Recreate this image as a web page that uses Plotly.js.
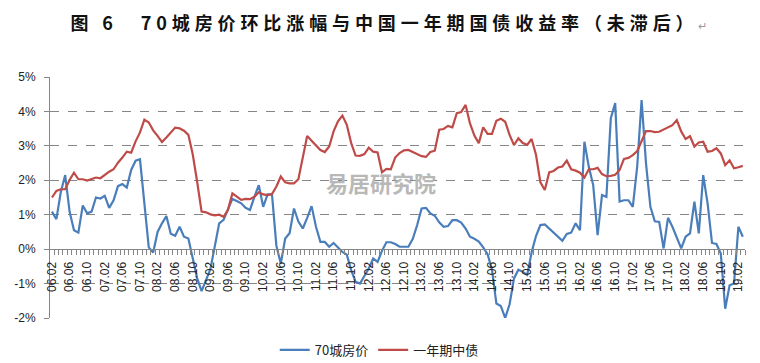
<!DOCTYPE html>
<html>
<head>
<meta charset="utf-8">
<script src="https://cdn.plot.ly/plotly-3.0.1.min.js"></script>
<style>
  html, body { margin: 0; padding: 0; background: #fff; }
  #chart { width: 760px; height: 363px; }
</style>
</head>
<body>
<div id="chart"></div>
<script>
// ---- data (monthly, from 2006.02 to 2019.03) ----
const startYear = 2006;
const startMonth = 2;

// 70城房价环比涨幅 (%)
const housePrice = [
  1.09, 0.87, 1.65, 2.15, 1.09, 0.55, 0.48, 1.27, 1.04, 1.09,
  1.50, 1.47, 1.55, 1.20, 1.42, 1.83, 1.89, 1.79, 2.30, 2.57,
  2.61, 1.40, 0.05, -0.10, 0.50, 0.75, 0.96, 0.45, 0.39, 0.65,
  0.36, 0.31, -0.30, -0.85, -1.22, -0.88, -0.58, 0.08, 0.75, 0.85,
  1.18, 1.46, 1.40, 1.33, 1.20, 1.14, 1.52, 1.86, 1.23, 1.59,
  1.59, 0.10, -0.42, 0.31, 0.46, 1.18, 0.80, 0.60, 0.91, 1.25,
  0.65, 0.21, 0.21, 0.07, 0.18, 0.05, -0.08, -0.16, -0.61, -0.95,
  -1.00, -0.78, -0.56, -0.27, -0.37, -0.05, 0.20, 0.20, 0.15, 0.07,
  0.07, 0.07, 0.30, 0.70, 1.18, 1.20, 1.04, 0.97, 0.78, 0.65,
  0.67, 0.84, 0.84, 0.77, 0.60, 0.36, 0.30, 0.22, 0.05, -0.15,
  -0.60, -1.58, -1.65, -2.00, -1.60, -0.85, -0.60, -0.66, -0.75, -0.10,
  0.38, 0.70, 0.72, 0.60, 0.50, 0.35, 0.24, 0.44, 0.48, 0.75,
  0.55, 3.12, 2.39, 1.86, 0.41, 1.57, 1.52, 3.80, 4.24, 1.38,
  1.42, 1.42, 1.23, 2.40, 4.33, 2.49, 1.23, 0.81, 0.79, 0.02,
  0.91, 0.65, 0.35, 0.02, 0.36, 0.46, 1.38, 0.46, 2.15, 1.33,
  0.18, 0.15, -0.13, -1.73, -1.05, -1.00, 0.65, 0.36
];

// 一年期中债收益率 (%)
const bondYield = [
  1.50, 1.69, 1.74, 1.74, 2.01, 2.22, 2.03, 2.03, 1.99, 2.04,
  2.08, 2.06, 2.16, 2.25, 2.32, 2.51, 2.66, 2.83, 2.80, 3.13,
  3.39, 3.76, 3.68, 3.45, 3.29, 3.11, 3.24, 3.39, 3.53, 3.51,
  3.44, 3.32, 2.75, 1.95, 1.09, 1.07, 1.01, 0.98, 1.00, 0.94,
  1.14, 1.62, 1.52, 1.43, 1.46, 1.45, 1.52, 1.65, 1.59, 1.57,
  1.60, 1.82, 2.11, 1.94, 1.91, 1.91, 2.03, 2.66, 3.29, 3.15,
  3.01, 2.88, 2.82, 2.98, 3.42, 3.71, 3.88, 3.61, 3.08, 2.72,
  2.71, 2.76, 2.95, 2.83, 2.81, 2.23, 2.33, 2.32, 2.66, 2.79,
  2.87, 2.88, 2.82, 2.76, 2.70, 2.68, 2.82, 2.86, 3.47, 3.49,
  3.58, 3.54, 3.95, 3.98, 4.19, 3.65, 3.30, 3.08, 3.54, 3.35,
  3.35, 3.73, 3.79, 3.70, 3.32, 3.02, 3.22, 3.08, 3.03, 3.20,
  2.74, 1.94, 1.72, 2.23, 2.27, 2.37, 2.40, 2.57, 2.32, 2.28,
  2.22, 2.08, 2.32, 2.32, 2.36, 2.18, 2.12, 2.13, 2.16, 2.30,
  2.62, 2.65, 2.73, 2.85, 3.12, 3.43, 3.43, 3.40, 3.41, 3.47,
  3.53, 3.60, 3.75, 3.42, 3.20, 3.28, 2.98, 3.10, 3.12, 2.83,
  2.85, 2.93, 2.78, 2.44, 2.58, 2.35, 2.38, 2.42
];

const seriesNames = ['70城房价', '一年期中债'];
const yTickValues = [-2, -1, 0, 1, 2, 3, 4, 5];
const yTickLabels = ['-2%', '-1%', '0%', '1%', '2%', '3%', '4%', '5%'];
const labelEvery = 4;

// category labels "YY.MM"
const months = housePrice.map((_, k) => {
  const m = startMonth - 1 + k;
  const yy = startYear + Math.floor(m / 12);
  const mm = (m % 12) + 1;
  return String(yy % 100).padStart(2, '0') + '.' + String(mm).padStart(2, '0');
});
const xIdx = months.map((_, k) => k);
const tickVals = xIdx.filter(k => k % labelEvery === 0);
const tickText = tickVals.map(k => months[k]);

const traces = [
  {
    x: xIdx, y: housePrice, name: seriesNames[0], type: 'scatter', mode: 'lines',
    text: months, hoverinfo: 'text+y',
    line: { color: '#4A7EBB', width: 2.2 }
  },
  {
    x: xIdx, y: bondYield, name: seriesNames[1], type: 'scatter', mode: 'lines',
    text: months, hoverinfo: 'text+y',
    line: { color: '#BE4B48', width: 2.2 }
  }
];

const yMin = -2, yMax = 5;
const layout = {
  width: 760, height: 363,
  margin: { l: 50, r: 15, t: 77, b: 45 },
  paper_bgcolor: '#ffffff', plot_bgcolor: '#ffffff',
  font: { family: 'Liberation Sans, Arial, "Noto Sans CJK SC", sans-serif', size: 12, color: '#222' },
  title: {
    text: '图 6　70城房价环比涨幅与中国一年期国债收益率（未滞后）<span style="font-size:11px;color:#999;font-weight:normal">↵</span>',
    font: { family: '"Noto Sans CJK SC", sans-serif', size: 18, color: '#111', weight: 'bold' },
    x: 0.515, xref: 'container', xanchor: 'center',
    y: 1 - 24 / 363, yref: 'container', yanchor: 'middle'
  },
  showlegend: true,
  legend: {
    orientation: 'h', x: 0.499, xref: 'container', xanchor: 'center',
    y: 1 - 350 / 363, yref: 'container', yanchor: 'middle',
    font: { family: '"Noto Sans CJK SC", Liberation Sans, sans-serif', size: 13, color: '#222' },
    bgcolor: 'rgba(0,0,0,0)', itemwidth: 30
  },
  xaxis: {
    type: 'linear', range: [-0.45, xIdx.length - 0.5],
    anchor: 'free', position: (0 - yMin) / (yMax - yMin),
    showline: true, linecolor: '#868686', linewidth: 1,
    tickvals: tickVals, ticktext: tickText, tickangle: -90,
    ticks: '', ticklen: 5, tickfont: { size: 12, color: '#222' }, ticklabelstandoff: 7,
    showgrid: false, zeroline: false, fixedrange: true,
    minor: { tick0: 0.5, dtick: 1, ticks: 'outside', ticklen: 5, tickcolor: '#868686', tickwidth: 1, showgrid: false }
  },
  yaxis: {
    range: [yMin, yMax], tickvals: yTickValues, ticktext: yTickLabels,
    showline: true, linecolor: '#868686', linewidth: 1,
    ticks: 'outside', ticklen: 5, tickcolor: '#868686',
    showgrid: true, gridcolor: '#868686', griddash: 'dash', gridwidth: 1,
    zeroline: false, tickfont: { size: 12, color: '#222' }, ticklabelstandoff: 6, fixedrange: true
  },
  annotations: [
    {
      text: '易居研究院', xref: 'paper', yref: 'paper',
      x: (381 - 50) / 695, y: (318 - 182) / 241, xanchor: 'center', yanchor: 'middle',
      showarrow: false,
      font: { family: '"Noto Sans CJK SC", sans-serif', size: 22, color: '#b8b8b8', weight: 'bold' }
    }
  ]
};

Plotly.newPlot('chart', traces, layout, { displayModeBar: false, staticPlot: true }).then(() => {
  document.querySelectorAll('.gtitle').forEach(el => el.setAttribute('letter-spacing', '4.9px'));
});
</script>
</body>
</html>
